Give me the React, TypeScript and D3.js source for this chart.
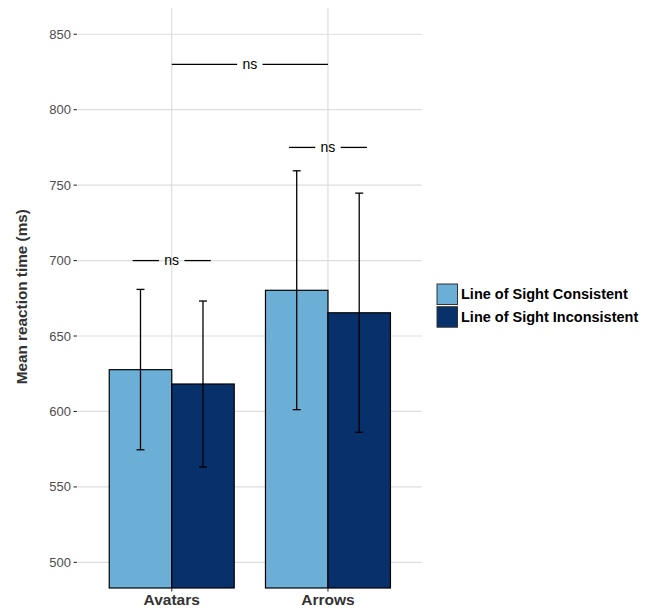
import React from "react";
import * as d3 from "d3";

const categories = ["Avatars", "Arrows"];
const groups = ["Line of Sight Consistent", "Line of Sight Inconsistent"];
const colors = ["#6baed6", "#08306b"];
const means = [
  [627.7, 618.2],
  [680.3, 665.4],
];
const errLow = [
  [574.6, 563.2],
  [601.2, 586.2],
];
const errHigh = [
  [680.9, 673.2],
  [759.5, 744.7],
];
const yTicks = [500, 550, 600, 650, 700, 750, 800, 850];
// significance brackets: [x start (category units), x end, y value]
const sigStart = [1, 1.75, 0.75];
const sigEnd = [2, 2.25, 1.25];
const sigY = [830, 775, 700];
const sigLabel = ["ns", "ns", "ns"];

export default function App() {
  const W = 663, H = 608;
  const left = 78, right = 421.7, top = 8, bottom = 588;
  const x = d3.scaleLinear().domain([0.4, 2.6]).range([left, right]);
  const y = d3.scaleLinear().domain([483, 867.4]).range([bottom, top]);
  const barW = 0.4;
  const font = "Liberation Sans, Arial, Helvetica, sans-serif";
  return (
    <svg width={W} height={H} style={{ position: "absolute", left: 0, top: 0 }} fontFamily={font}>
      <rect width={W} height={H} fill="#fff" />
      {yTicks.map((t) => (
        <g key={t}>
          <line x1={left} x2={right} y1={y(t)} y2={y(t)} stroke="#dedede" strokeWidth={1.2} />
          <line x1={73.5} x2={77} y1={y(t)} y2={y(t)} stroke="#333" strokeWidth={1.1} />
          <text x={71} y={y(t)} dy="0.35em" textAnchor="end" fontSize={13} fill="#4d4d4d">{t}</text>
        </g>
      ))}
      {categories.map((c, i) => (
        <line key={c} x1={x(i + 1)} x2={x(i + 1)} y1={top} y2={bottom} stroke="#dedede" strokeWidth={1.2} />
      ))}
      {categories.map((c, i) =>
        groups.map((g, j) => {
          const x0 = i + 1 - barW + j * barW;
          return (
            <rect key={c + g} x={x(x0)} y={y(means[i][j])} width={x(x0 + barW) - x(x0)}
              height={bottom - y(means[i][j])} fill={colors[j]} stroke="#000" strokeWidth={1.2} />
          );
        })
      )}
      {categories.map((c, i) =>
        groups.map((g, j) => {
          const cx = x(i + 1 - barW / 2 + j * barW);
          return (
            <g key={"e" + c + g} stroke="#000" strokeWidth={1.3}>
              <line x1={cx} x2={cx} y1={y(errHigh[i][j])} y2={y(errLow[i][j])} />
              <line x1={cx - 4} x2={cx + 4} y1={y(errHigh[i][j])} y2={y(errHigh[i][j])} />
              <line x1={cx - 4} x2={cx + 4} y1={y(errLow[i][j])} y2={y(errLow[i][j])} />
            </g>
          );
        })
      )}
      {sigY.map((v, k) => {
        const x1 = x(sigStart[k]), x2 = x(sigEnd[k]);
        const cx = (x1 + x2) / 2;
        const gap = 12.7;
        return (
          <g key={"s" + k}>
            <line x1={x1} x2={cx - gap} y1={y(v)} y2={y(v)} stroke="#000" strokeWidth={1.3} />
            <line x1={cx + gap} x2={x2} y1={y(v)} y2={y(v)} stroke="#000" strokeWidth={1.3} />
            <text x={cx} y={y(v)} dy="0.35em" textAnchor="middle" fontSize={14} fill="#000">{sigLabel[k]}</text>
          </g>
        );
      })}
      {categories.map((c, i) => (
        <g key={"x" + c}>
          <line x1={x(i + 1)} x2={x(i + 1)} y1={bottom} y2={bottom + 3.5} stroke="#333" strokeWidth={1.1} />
          <text x={x(i + 1)} y={605} textAnchor="middle" fontSize={15.5} fontWeight="bold" fill="#333">{c}</text>
        </g>
      ))}
      <text transform={`translate(27,${296.7}) rotate(-90)`} textAnchor="middle" fontSize={15.3}
        fontWeight="bold" fill="#333">Mean reaction time (ms)</text>
      {groups.map((g, j) => (
        <g key={"l" + g}>
          <rect x={437} y={284 + j * 22.7} width={20.5} height={20.5} fill={colors[j]} stroke="#333" strokeWidth={1} />
          <text x={461} y={284 + j * 22.7 + 10.3} dy="0.35em" fontSize={14.5} fontWeight="bold" fill="#000">{g}</text>
        </g>
      ))}
    </svg>
  );
}
